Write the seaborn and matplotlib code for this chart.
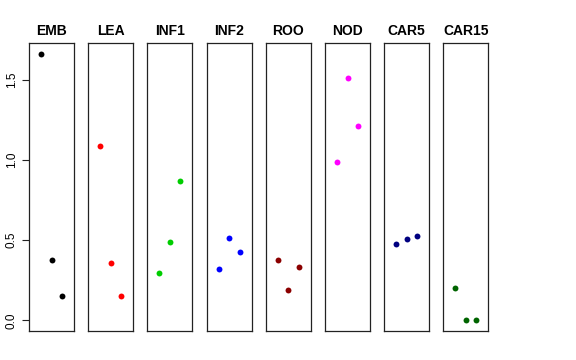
import numpy as np
import pandas as pd
import seaborn as sns
import matplotlib
matplotlib.use("Agg")
import matplotlib.pyplot as plt

sns.set_style("white")
plt.rcParams['font.family'] = ['Liberation Sans', 'DejaVu Sans']
plt.rcParams['text.color'] = 'black'
plt.rcParams['ytick.color'] = 'black'
plt.rcParams['axes.titlecolor'] = 'black'

# tissues and their three replicate values
tissues = ["EMB", "LEA", "INF1", "INF2", "ROO", "NOD", "CAR5", "CAR15"]
colors = ["black", "red", "#00CD00", "blue", "#8B0000", "magenta", "#000080", "#006400"]
replicate = [1, 2, 3]
values = {
    "EMB": [1.665, 0.379, 0.150],
    "LEA": [1.088, 0.356, 0.150],
    "INF1": [0.296, 0.492, 0.871],
    "INF2": [0.323, 0.515, 0.425],
    "ROO": [0.377, 0.192, 0.331],
    "NOD": [0.988, 1.510, 1.214],
    "CAR5": [0.475, 0.510, 0.527],
    "CAR15": [0.200, 0.000, 0.000],
}

# long table
rows = []
for t in tissues:
    for r, v in zip(replicate, values[t]):
        rows.append({"tissue": t, "rep": r, "value": v})
df = pd.DataFrame(rows)

fig = plt.figure(figsize=(5.76, 3.6), dpi=100)
W, H = 576, 360
ymin, ymax = -0.0666, 1.731

for i, (t, c) in enumerate(zip(tissues, colors)):
    left = 29 + i * 59.2
    ax = fig.add_axes([left / W, 1 - 331 / H, 45 / W, (331 - 43) / H])
    sns.scatterplot(data=df[df["tissue"] == t], x="rep", y="value", color=c,
                    s=18, linewidth=0, ax=ax)
    ax.set_xlim(-0.16, 4.16)
    ax.set_ylim(ymin, ymax)
    ax.set_xticks([])
    ax.set_xlabel("")
    ax.set_ylabel("")
    ax.set_title(t, fontsize=10, fontweight="bold", pad=6, color="black")
    for sp in ax.spines.values():
        sp.set_color("#222222")
        sp.set_linewidth(0.9)
    if i == 0:
        ax.set_yticks([0.0, 0.5, 1.0, 1.5])
        ax.set_yticklabels(["0.0", "0.5", "1.0", "1.5"], rotation=90, va="center",
                           fontsize=8.5, color="black")
        ax.tick_params(axis="y", left=True, length=5, width=0.8, color="#222222", pad=3)
    else:
        ax.set_yticks([])

fig.savefig("out.png", dpi=100)
